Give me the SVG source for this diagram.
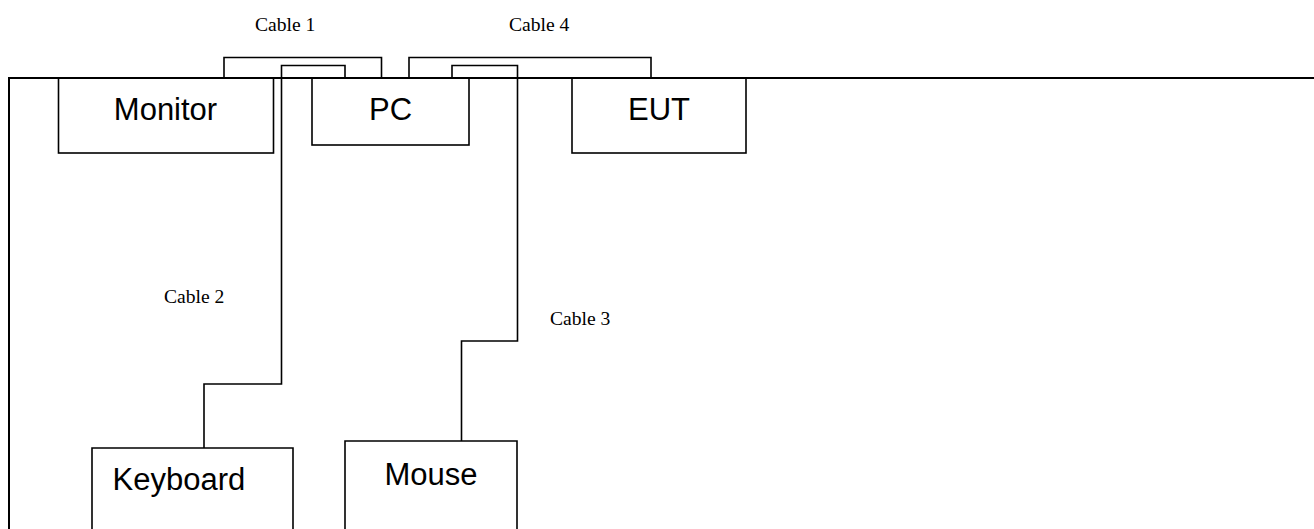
<svg xmlns="http://www.w3.org/2000/svg" width="1314" height="529" viewBox="0 0 1314 529">
<style>
.box{fill:#fff;stroke:#000;stroke-width:1.6}
.lbl{font-family:"Liberation Sans",Arial,sans-serif;font-size:31px;fill:#000}
.cab{font-family:"Liberation Serif","Times New Roman",serif;font-size:19.6px;fill:#000}
.wire{fill:none;stroke:#000;stroke-width:1.6}
</style>
<rect width="1314" height="529" fill="#fff"/>
<g id="connectors">
<path class="wire" d="M224,78 V57.5 H381.5 V78"/>
<path class="wire" d="M204,448 V384 H281.5 V65.5 H345 V78"/>
<path class="wire" d="M409,78 V57.5 H651 V78"/>
<path class="wire" d="M461.5,441 V341 H517.5 V65.5 H452 V78"/>
<text class="cab" x="255" y="30.5">Cable 1</text>
<text class="cab" x="164" y="303">Cable 2</text>
<text class="cab" x="550" y="325">Cable 3</text>
<text class="cab" x="509" y="30.5">Cable 4</text>
</g>
<g id="monitor">
<rect class="box" x="58.5" y="78" width="215" height="75"/>
<text class="lbl" x="165.5" y="120" text-anchor="middle">Monitor</text>
</g>
<g id="pc">
<rect class="box" x="312" y="78" width="157" height="67"/>
<text class="lbl" x="390.5" y="120" text-anchor="middle">PC</text>
</g>
<g id="eut">
<rect class="box" x="572" y="78" width="174" height="75"/>
<text class="lbl" x="659" y="119.5" text-anchor="middle">EUT</text>
</g>
<g id="keyboard">
<path class="box" d="M92,531 V448 H293 V531"/>
<text class="lbl" x="112.5" y="490">Keyboard</text>
</g>
<g id="mouse">
<path class="box" d="M345,531 V441 H517 V531"/>
<text class="lbl" x="431" y="485" text-anchor="middle">Mouse</text>
</g>
<g id="frame">
<path d="M9,529 V78 H1314" fill="none" stroke="#000" stroke-width="2"/>
</g>
</svg>
